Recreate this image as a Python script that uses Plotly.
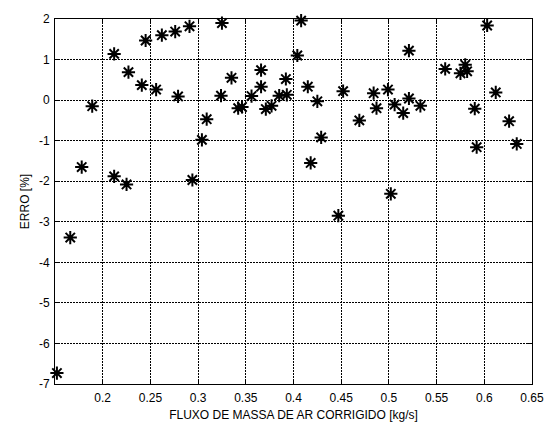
import plotly.graph_objects as go

# Corrected air mass flow [kg/s] and measurement error [%]
fluxo = [
    0.152, 0.166, 0.178, 0.189, 0.212, 0.212, 0.225, 0.227,
    0.241, 0.245, 0.256, 0.262, 0.276, 0.279, 0.291, 0.294,
    0.304, 0.309, 0.324, 0.325, 0.335, 0.342, 0.346, 0.356,
    0.366, 0.366, 0.371, 0.377, 0.385, 0.392, 0.393, 0.404,
    0.408, 0.415, 0.418, 0.425, 0.429, 0.447, 0.452, 0.469,
    0.484, 0.487, 0.499, 0.502, 0.506, 0.515, 0.521, 0.521,
    0.533, 0.559, 0.575, 0.580, 0.582, 0.590, 0.592, 0.603,
    0.612, 0.626, 0.634,
]
erro = [
    -6.73, -3.39, -1.65, -0.15, 1.14, -1.88, -2.08, 0.69,
    0.37, 1.47, 0.26, 1.60, 1.69, 0.09, 1.82, -1.97,
    -0.98, -0.47, 0.11, 1.90, 0.55, -0.20, -0.17, 0.10,
    0.74, 0.33, -0.22, -0.14, 0.11, 0.52, 0.13, 1.10,
    1.96, 0.33, -1.55, -0.03, -0.92, -2.85, 0.22, -0.50,
    0.17, -0.20, 0.26, -2.31, -0.11, -0.32, 1.22, 0.04,
    -0.14, 0.77, 0.66, 0.87, 0.71, -0.21, -1.16, 1.84,
    0.19, -0.52, -1.08,
]

x_ticks = [0.2, 0.25, 0.3, 0.35, 0.4, 0.45, 0.5, 0.55, 0.6, 0.65]
y_ticks = [-7, -6, -5, -4, -3, -2, -1, 0, 1, 2]

FONT = "Liberation Sans, Arial, sans-serif"

fig = go.Figure(
    go.Scatter(
        x=fluxo,
        y=erro,
        mode="markers",
        marker=dict(
            symbol="asterisk-open",
            size=11,
            color="black",
            line=dict(color="black", width=2),
        ),
        showlegend=False,
        cliponaxis=False,
    )
)

axis_common = dict(
    showline=True,
    linecolor="black",
    linewidth=1,
    mirror="ticks",
    ticks="inside",
    ticklen=4,
    tickcolor="black",
    showgrid=True,
    gridcolor="black",
    gridwidth=1,
    griddash="2px,1px",
    zeroline=False,
    tickfont=dict(family=FONT, size=12, color="black"),
)

fig.update_xaxes(
    range=[0.15, 0.65],
    tickvals=x_ticks,
    ticktext=[f"{v:g}" for v in x_ticks],
    ticklabelstandoff=3,
    title=dict(
        text="FLUXO DE MASSA DE AR CORRIGIDO [kg/s]",
        font=dict(family=FONT, size=12, color="black"),
        standoff=6,
    ),
    **axis_common,
)
fig.update_yaxes(
    range=[-7, 2],
    tickvals=y_ticks,
    ticktext=[str(v) for v in y_ticks],
    ticklabelstandoff=2,
    title=dict(
        text="ERRO [%]",
        font=dict(family=FONT, size=12, color="black"),
        standoff=6,
    ),
    **axis_common,
)

fig.update_layout(
    width=556,
    height=432,
    margin=dict(l=55, r=20, t=17, b=39),
    paper_bgcolor="white",
    plot_bgcolor="white",
)

fig.write_html("out.html")
